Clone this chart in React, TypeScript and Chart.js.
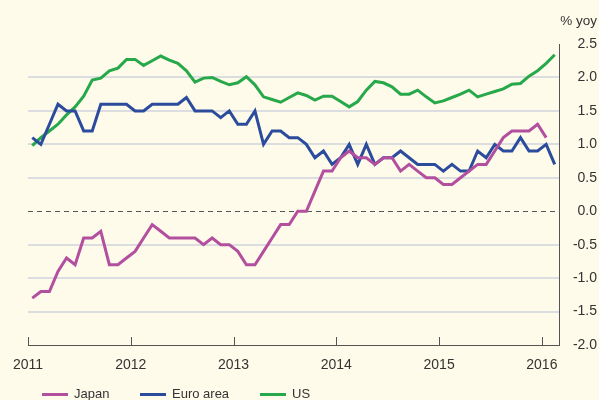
import React, { useEffect, useRef } from "react";
import { Chart, registerables } from "chart.js";

Chart.register(...registerables);

// Monthly data, Jan 2011 onward (month index 0 = Jan 2011)
const japan = [
  -1.3, -1.2, -1.2, -0.9, -0.7, -0.8, -0.4, -0.4, -0.3, -0.8,
  -0.8, -0.7, -0.6, -0.4, -0.2, -0.3, -0.4, -0.4, -0.4, -0.4,
  -0.5, -0.4, -0.5, -0.5, -0.6, -0.8, -0.8, -0.6, -0.4, -0.2,
  -0.2, 0.0, 0.0, 0.3, 0.6, 0.6, 0.8, 0.9, 0.8, 0.8,
  0.7, 0.8, 0.8, 0.6, 0.7, 0.6, 0.5, 0.5, 0.4, 0.4,
  0.5, 0.6, 0.7, 0.7, 0.9, 1.1, 1.2, 1.2, 1.2, 1.3, 1.1,
];
const euroArea = [
  1.1, 1.0, 1.3, 1.6, 1.5, 1.5, 1.2, 1.2, 1.6, 1.6,
  1.6, 1.6, 1.5, 1.5, 1.6, 1.6, 1.6, 1.6, 1.7, 1.5,
  1.5, 1.5, 1.4, 1.5, 1.3, 1.3, 1.5, 1.0, 1.2, 1.2,
  1.1, 1.1, 1.0, 0.8, 0.9, 0.7, 0.8, 1.0, 0.7, 1.0,
  0.7, 0.8, 0.8, 0.9, 0.8, 0.7, 0.7, 0.7, 0.6, 0.7,
  0.6, 0.6, 0.9, 0.8, 1.0, 0.9, 0.9, 1.1, 0.9, 0.9, 1.0, 0.7,
];
const us = [
  0.98, 1.1, 1.2, 1.3, 1.44, 1.56, 1.72, 1.96, 1.99, 2.1,
  2.14, 2.27, 2.27, 2.18, 2.25, 2.32, 2.26, 2.21, 2.1, 1.93,
  1.99, 2.0, 1.94, 1.89, 1.92, 2.01, 1.89, 1.71, 1.67, 1.63,
  1.7, 1.77, 1.73, 1.66, 1.72, 1.72, 1.64, 1.56, 1.64, 1.81,
  1.94, 1.92, 1.86, 1.75, 1.75, 1.81, 1.71, 1.62, 1.65, 1.7,
  1.75, 1.81, 1.71, 1.75, 1.79, 1.83, 1.9, 1.91, 2.02, 2.1, 2.21, 2.34,
];

const seriesNames = ["Japan", "Euro area", "US"];
const seriesValues = [japan, euroArea, us];
const seriesColors = ["#b24f9f", "#2b4c9c", "#27a84a"];

const firstYear = 2011;
const yearLabels = ["2011", "2012", "2013", "2014", "2015", "2016"];
const yMin = -2.0;
const yMax = 2.5;
const yStep = 0.5;
const unitLabel = "% yoy";

const FONT = "'Liberation Sans', Arial, Helvetica, sans-serif";
const TEXT = "#333333";
const BG = "#fefbea";

const overlayPlugin = {
  id: "overlay",
  beforeDatasetsDraw(chart: any) {
    const { ctx, chartArea, scales } = chart;
    const y0 = scales.y.getPixelForValue(0);
    ctx.save();
    ctx.strokeStyle = "#555555";
    ctx.lineWidth = 1;
    ctx.setLineDash([5, 4]);
    ctx.beginPath();
    ctx.moveTo(chartArea.left, Math.round(y0) + 0.5);
    ctx.lineTo(chartArea.right, Math.round(y0) + 0.5);
    ctx.stroke();
    ctx.restore();
  },
  afterDraw(chart: any) {
    const { ctx, chartArea, scales } = chart;
    ctx.save();
    ctx.strokeStyle = "#555555";
    ctx.lineWidth = 1;
    scales.x.ticks.forEach((t: any) => {
      const px = Math.round(scales.x.getPixelForValue(t.value)) + 0.5;
      ctx.beginPath();
      ctx.moveTo(px, chartArea.bottom);
      ctx.lineTo(px, chartArea.bottom - 8);
      ctx.stroke();
    });
    ctx.restore();
  },
};

function ChartCanvas() {
  const ref = useRef<HTMLCanvasElement | null>(null);
  useEffect(() => {
    document.body.style.margin = "0";
    const canvas = ref.current;
    if (!canvas) return;
    const chart = new Chart(canvas, {
      type: "line",
      data: {
        datasets: seriesNames.map((name, k) => ({
          label: name,
          data: seriesValues[k].map((v, i) => ({ x: i + 0.5, y: v })),
          borderColor: seriesColors[k],
          backgroundColor: seriesColors[k],
          borderWidth: 3,
          pointRadius: 0,
          tension: 0,
          fill: false,
        })),
      },
      options: {
        animation: false,
        responsive: false,
        maintainAspectRatio: false,
        layout: { padding: { left: 28, right: 2, top: 44, bottom: 0 } },
        plugins: { legend: { display: false }, tooltip: { enabled: false } },
        scales: {
          x: {
            type: "linear",
            min: 0,
            max: 62,
            afterBuildTicks: (scale: any) => {
              scale.ticks = yearLabels.map((_, i) => ({ value: i * 12 }));
            },
            afterFit: (scale: any) => {
              scale.height = 55;
            },
            ticks: {
              autoSkip: false,
              maxRotation: 0,
              padding: 12,
              color: TEXT,
              font: { family: FONT, size: 14 },
              callback: (v: any) => String(firstYear + Math.round(Number(v) / 12)),
            },
            grid: { display: true, drawOnChartArea: false, drawTicks: false },
            border: { display: true, color: "#555555", width: 1 },
          },
          y: {
            position: "right",
            min: yMin,
            max: yMax,
            afterFit: (scale: any) => {
              scale.width = 38;
            },
            ticks: {
              stepSize: yStep,
              crossAlign: "far",
              padding: 4,
              color: TEXT,
              font: { family: FONT, size: 14 },
              callback: (v: any) => Number(v).toFixed(1),
            },
            grid: {
              drawTicks: false,
              lineWidth: 2,
              color: (c: any) => {
                const v = c.tick ? c.tick.value : null;
                if (v === 0 || v === yMax || v === yMin) return "rgba(0,0,0,0)";
                return "#dcdde0";
              },
            },
            border: { display: true, color: "#555555", width: 1 },
          },
        },
      },
      plugins: [overlayPlugin],
    } as any);
    return () => chart.destroy();
  }, []);
  return <canvas ref={ref} width={599} height={400} style={{ display: "block" }} />;
}

export default function App() {
  const legendLeft = [42, 140, 260];
  return (
    <div
      style={{
        position: "absolute",
        left: 0,
        top: 0,
        width: 599,
        height: 400,
        overflow: "hidden",
        background: BG,
        fontFamily: FONT,
        color: TEXT,
      }}
    >
      <ChartCanvas />
      <div
        style={{
          position: "absolute",
          right: 2,
          top: 13,
          fontSize: 13.5,
          lineHeight: "16px",
          whiteSpace: "nowrap",
        }}
      >
        {unitLabel}
      </div>
      {seriesNames.map((name, k) => (
        <div
          key={name}
          style={{
            position: "absolute",
            left: legendLeft[k],
            top: 386,
            display: "flex",
            alignItems: "center",
            fontSize: 13,
            lineHeight: "16px",
            whiteSpace: "nowrap",
          }}
        >
          <span
            style={{
              display: "inline-block",
              width: 26,
              height: 3,
              background: seriesColors[k],
              marginRight: 6,
            }}
          />
          <span>{name}</span>
        </div>
      ))}
    </div>
  );
}
